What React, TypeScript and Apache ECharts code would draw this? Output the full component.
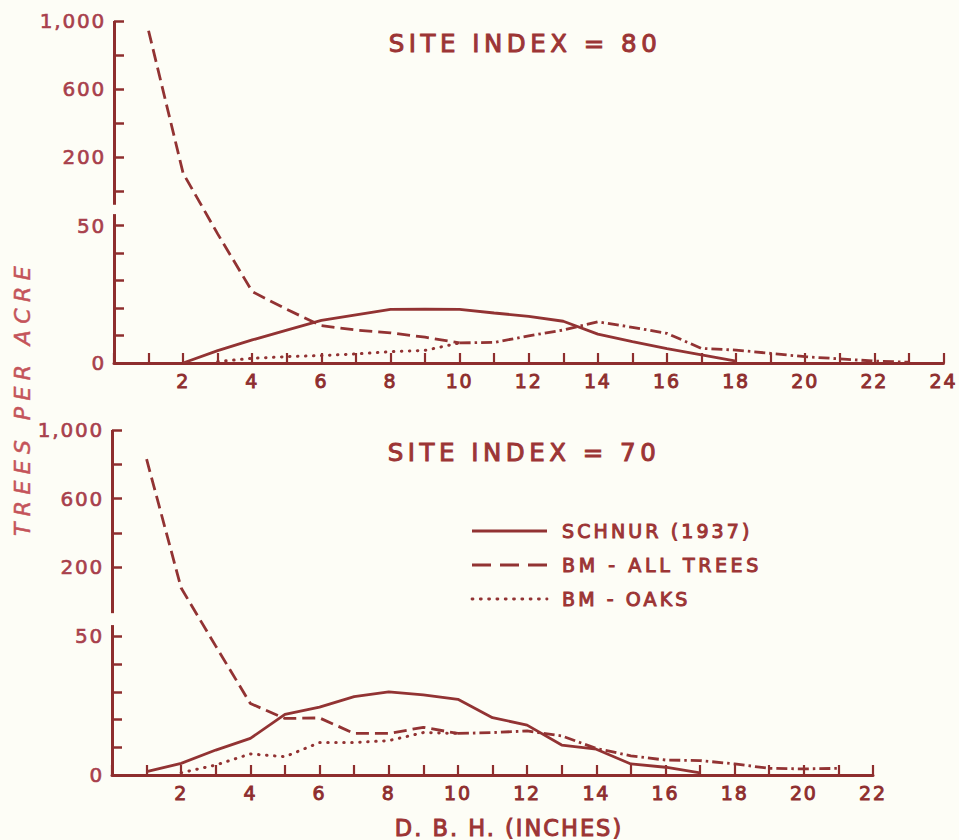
import React, { useEffect, useRef } from "react";
import * as echarts from "echarts";

// ---------------- data (trees per acre by d.b.h. class) ----------------
// Site index 80
const dbhSchnur80 = [2, 3, 4, 5, 6, 7, 8, 9, 10, 11, 12, 13, 14, 15, 16, 17, 18];
const schnur80 = [0, 4.5, 8.4, 12, 15.5, 17.5, 19.5, 19.6, 19.5, 18.2, 17, 15.2, 10.5, 7.8, 5.2, 3, 0.7];
const dbhAll80 = [1, 2, 3, 4, 5, 6, 7, 8, 9, 10];
const allTrees80 = [943, 106, 47, 26, 19.5, 13.6, 12, 11, 9.4, 7.3];
const dbhOaks80 = [3, 4, 5, 6, 7, 8, 9, 10];
const oaks80 = [0.5, 1.7, 2.3, 2.7, 3.3, 4.1, 4.6, 7.3];
const dbhBoth80 = [10, 11, 12, 13, 14, 15, 16, 17, 18, 19, 20, 21, 22, 23];
const both80 = [7.3, 7.5, 9.9, 12, 15, 13, 10.8, 5.3, 4.7, 3.5, 2.3, 1.5, 0.7, 0.3];

// Site index 70
const dbhSchnur70 = [1, 2, 3, 4, 5, 6, 7, 8, 9, 10, 11, 12, 13, 14, 15, 16, 17];
const schnur70 = [1.2, 4.2, 9, 13.2, 21.9, 24.5, 28.3, 30, 28.9, 27.3, 20.7, 18, 10.8, 9.3, 4, 2.8, 0.8];
const dbhAll70 = [1, 2, 3, 4, 5, 6, 7, 8, 9, 10];
const allTrees70 = [830, 80, 46.5, 25.8, 20.4, 20.6, 15, 15, 17.2, 15];
const dbhOaks70 = [2, 3, 4, 5, 6, 7, 8, 9, 10];
const oaks70 = [0.8, 3.6, 7.6, 6.6, 11.7, 11.7, 12.4, 15.3, 15];
const dbhBoth70 = [10, 11, 12, 13, 14, 15, 16, 17, 18, 19, 20, 21];
const both70 = [15, 15.3, 15.9, 14.1, 9.6, 6.9, 5.4, 5.2, 4, 2.4, 2.2, 2.4];

// tick labels
const xLabels80 = [2, 4, 6, 8, 10, 12, 14, 16, 18, 20, 22, 24];
const xLabels70 = [2, 4, 6, 8, 10, 12, 14, 16, 18, 20, 22];
const xTicks80 = [0, 1, 2, 3, 4, 5, 6, 7, 8, 9, 10, 11, 12, 13, 14, 15, 16, 17, 18, 19, 20, 21, 22, 23, 24];
const xTicks70 = [0, 1, 2, 3, 4, 5, 6, 7, 8, 9, 10, 11, 12, 13, 14, 15, 16, 17, 18, 19, 20, 21, 22];
const yLowerTicks = [0, 10, 20, 30, 40, 50];
const yLowerLabels = [0, 50];
const yUpperTicks80 = [0, 200, 400, 600, 800, 1000];
const yUpperTicks70 = [200, 400, 600, 800, 1000];
const yUpperLabels = [200, 600, 1000];

const legendNames = ["SCHNUR (1937)", "BM - ALL TREES", "BM - OAKS"];

// ---------------- styling ----------------
const INK = "#8e2e2e";
const LINE = "#923333";
const TITLE = "#9c3535";
const LABEL = "#a8404c";
const SOFT = "#c4545a";
const BG = "#fdfdf6";
const FONT = "DejaVu Sans";

// broken y scale: 0-50 linear, then a compressed 0-1000 segment above the break
const U0 = 62.5;
const K = 0.062;
const LOW_MAX = 50;
const DISP_MAX = U0 + K * 1000;
const upper = (v: number) => U0 + K * v;
const disp = (v: number) => (v <= LOW_MAX ? v : upper(v));
const pairs = (xs: number[], ys: number[]) => xs.map((x, i) => [x, disp(ys[i])]);

const yLabelFmt = (d: number) => {
  if (d <= LOW_MAX + 1e-6) return String(Math.round(d));
  return Math.round((d - U0) / K).toLocaleString("en-US");
};

const DASH = [13, 6];
const DOT = [0.5, 7.5];
const DASHDOT = [11, 4, 2.5, 4];

function panelSeries(
  idx: number,
  s: number[][],
  a: number[][],
  o: number[][],
  b: number[][],
  breakLow: number,
  breakHigh: number
) {
  const common = {
    type: "line",
    xAxisIndex: idx,
    yAxisIndex: idx,
    showSymbol: false,
    symbol: "none",
    silent: true,
    z: 3,
  };
  return [
    {
      ...common,
      name: legendNames[0],
      data: s,
      lineStyle: { color: LINE, width: 2.8, type: "solid" },
      markLine: {
        silent: true,
        symbol: ["none", "none"],
        label: { show: false },
        lineStyle: { color: INK, width: 3, type: "solid" },
        data: [
          [{ coord: [0, 0] }, { coord: [0, breakLow] }],
          [{ coord: [0, breakHigh] }, { coord: [0, DISP_MAX] }],
        ],
      },
    },
    { ...common, name: legendNames[1], data: a, lineStyle: { color: LINE, width: 2.8, type: DASH } },
    { ...common, name: legendNames[2], data: o, lineStyle: { color: LINE, width: 3, type: DOT, cap: "round" } },
    { ...common, name: "both", data: b, lineStyle: { color: LINE, width: 2.8, type: DASHDOT } },
  ];
}

function xAxisCfg(idx: number, max: number, ticks: number[], labels: number[]) {
  return {
    type: "value",
    gridIndex: idx,
    min: 0,
    max,
    interval: 1,
    axisLine: { show: true, lineStyle: { color: INK, width: 3 } },
    axisTick: { show: true, inside: true, length: 10, customValues: ticks, lineStyle: { color: INK, width: 2.2 } },
    axisLabel: {
      show: true,
      customValues: labels,
      color: INK,
      fontSize: 19,
      fontFamily: FONT,
      textBorderColor: INK,
      textBorderWidth: 0.9,
      margin: 8,
    },
    splitLine: { show: false },
  };
}

function yAxisCfg(idx: number, upperTicks: number[]) {
  return {
    type: "value",
    gridIndex: idx,
    min: 0,
    max: DISP_MAX,
    axisLine: { show: false },
    axisTick: {
      show: true,
      inside: true,
      length: 10,
      customValues: [...yLowerTicks, ...upperTicks.map(upper)],
      lineStyle: { color: INK, width: 2.5 },
    },
    axisLabel: {
      show: true,
      customValues: [...yLowerLabels, ...yUpperLabels.map(upper)],
      formatter: (v: number) => yLabelFmt(v),
      color: LABEL,
      fontSize: 20,
      fontFamily: FONT,
      textBorderColor: LABEL,
      textBorderWidth: 0.6,
      margin: 8,
    },
    splitLine: { show: false },
  };
}

const spacingFor = (t: string) => {
  if (t.startsWith("SITE")) return 4.5;
  if (t === "TREES PER ACRE") return 6.4;
  if (t.startsWith("D. B.")) return 2;
  if (t.startsWith("BM - ALL")) return 3.6;
  if (/^[A-Z]/.test(t)) return 3.1;
  return 1.8;
};

const heavy = (fill: string, size: number, extra: any = {}) => ({
  fontSize: size,
  fontFamily: FONT,
  fill,
  stroke: fill,
  lineWidth: 1,
  ...extra,
});

export default function App() {
  const ref = useRef<HTMLDivElement>(null);
  useEffect(() => {
    if (!ref.current) return;
    const el = ref.current;
    const chart = echarts.init(el, undefined, { renderer: "svg" });

    const legendY = [531, 565, 599];
    const legendDash: any[] = [null, [19, 9], [1, 7.3]];

    chart.setOption({
      animation: false,
      backgroundColor: BG,
      grid: [
        { left: 114, top: 21, width: 830, height: 342, containLabel: false },
        { left: 112, top: 430, width: 761, height: 345, containLabel: false },
      ],
      xAxis: [xAxisCfg(0, 24, xTicks80, xLabels80), xAxisCfg(1, 22, xTicks70, xLabels70)],
      yAxis: [yAxisCfg(0, yUpperTicks80), yAxisCfg(1, yUpperTicks70)],
      series: [
        ...panelSeries(0, pairs(dbhSchnur80, schnur80), pairs(dbhAll80, allTrees80), pairs(dbhOaks80, oaks80), pairs(dbhBoth80, both80), 54.2, 57.6),
        ...panelSeries(1, pairs(dbhSchnur70, schnur70), pairs(dbhAll70, allTrees70), pairs(dbhOaks70, oaks70), pairs(dbhBoth70, both70), 54.1, 58.4),
      ],
      graphic: [
        {
          type: "text",
          x: 525,
          y: 43,
          style: { text: "SITE INDEX = 80", ...heavy(TITLE, 24.5), align: "center", verticalAlign: "middle" },
        },
        {
          type: "text",
          x: 524,
          y: 452,
          style: { text: "SITE INDEX = 70", ...heavy(TITLE, 24.5), align: "center", verticalAlign: "middle" },
        },
        ...legendY.map((y, i) => ({
          type: "line",
          shape: { x1: 472, y1: y, x2: 547, y2: y },
          style: { stroke: LINE, lineWidth: 2.8, lineDash: legendDash[i], lineCap: i === 2 ? "round" : "butt" },
        })),
        ...legendY.map((y, i) => ({
          type: "text",
          x: 562,
          y,
          style: { text: legendNames[i], ...heavy(TITLE, 19), align: "left", verticalAlign: "middle" },
        })),
        {
          type: "text",
          x: 509,
          y: 828,
          style: { text: "D. B. H. (INCHES)", ...heavy(TITLE, 22.5), align: "center", verticalAlign: "middle" },
        },
        {
          type: "text",
          x: 22,
          y: 398,
          rotation: Math.PI / 2,
          style: {
            text: "TREES PER ACRE",
            ...heavy(SOFT, 22, { lineWidth: 0.5 }),
            fontStyle: "italic",
            align: "center",
            verticalAlign: "middle",
          },
        },
      ],
    });

    const applySpacing = () => {
      el.querySelectorAll("text").forEach((t) => {
        t.setAttribute("letter-spacing", String(spacingFor(t.textContent || "")));
      });
    };
    applySpacing();
    chart.on("rendered", applySpacing);
    const raf = requestAnimationFrame(applySpacing);

    return () => {
      cancelAnimationFrame(raf);
      chart.dispose();
    };
  }, []);

  return (
    <div
      ref={ref}
      style={{ position: "fixed", left: 0, top: 0, width: 959, height: 840, background: BG }}
    />
  );
}
